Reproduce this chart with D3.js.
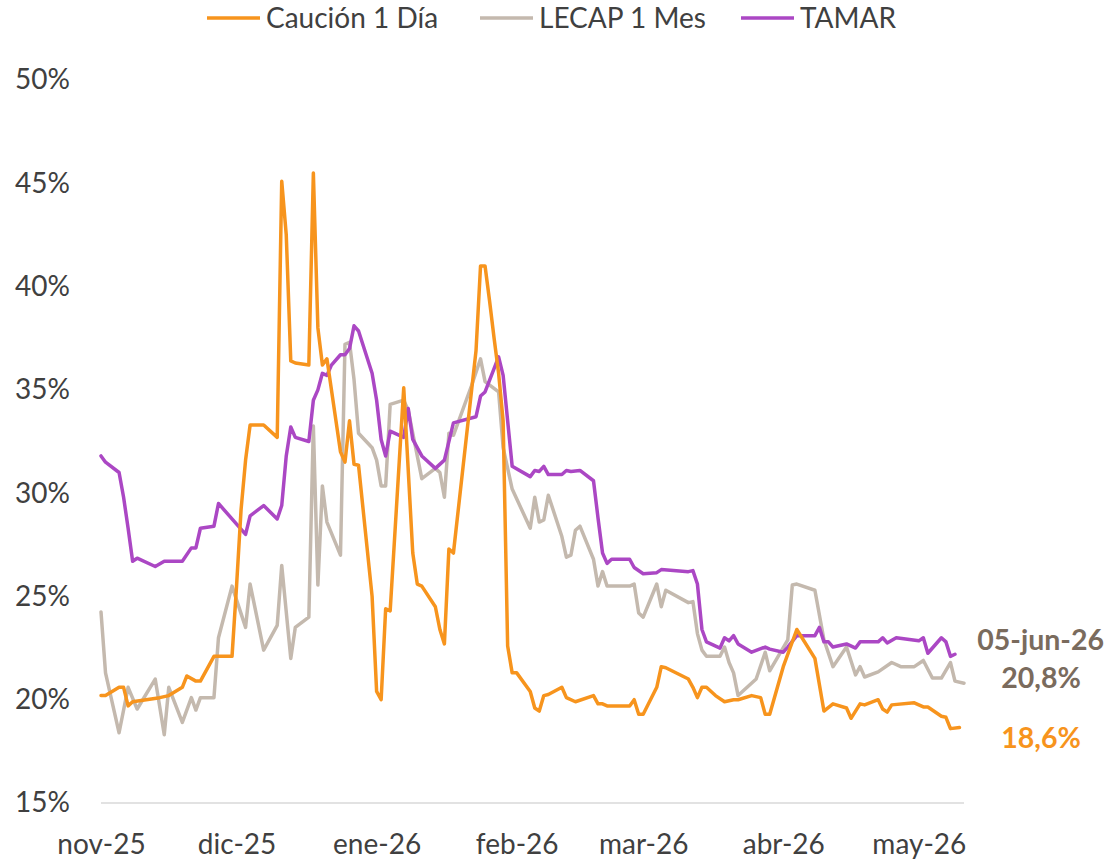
<!DOCTYPE html>
<html><head><meta charset="utf-8">
<script src="https://cdn.jsdelivr.net/npm/d3@7"></script>
<style>
html,body{margin:0;padding:0;background:#fff;}
text{font-family:Lato,"Open Sans",sans-serif;}
</style></head>
<body>
<svg id="chart" width="1107" height="863"></svg>
<script>
// ---- DATA (day offset from 1-nov-2025, value in %) ----
const seriesNames = ["Caución 1 Día", "LECAP 1 Mes", "TAMAR"];
const caucion = [[0,20.2],[1,20.2],[4,20.6],[5,20.6],[6,19.7],[7,19.9],[13,20.1],[15,20.2],[18,20.6],[19,21.15],[21,20.9],[22,20.9],[25,22.1],[29,22.1],[30,25.5],[31,29.2],[32,31.6],[33,33.3],[36,33.3],[39,32.7],[40,45.1],[41,42.5],[42,36.4],[43,36.3],[46,36.2],[47,45.5],[48,38.0],[49,36.2],[50,36.5],[53,32.0],[54,31.5],[55,33.5],[56,31.4],[57,31.35],[60,25.0],[61,20.4],[62,20.0],[63,24.4],[64,24.3],[67,35.1],[69,27.1],[70,25.6],[71,25.5],[74,24.5],[75,23.4],[76,22.7],[77,27.3],[78,27.1],[83,36.9],[84,41.0],[85,41.0],[86,39.3],[87,37.5],[88,35.8],[89,33.5],[90,22.6],[91,21.3],[92,21.3],[95,20.4],[96,19.6],[97,19.45],[98,20.2],[99,20.25],[102,20.6],[103,20.1],[105,19.9],[109,20.2],[110,19.8],[111,19.8],[112,19.7],[117,19.7],[118,20.0],[119,19.3],[120,19.3],[123,20.6],[124,21.6],[125,21.55],[130,21.0],[131,20.6],[132,20.1],[133,20.6],[134,20.6],[136,20.2],[138,19.9],[140,20.0],[141,20.0],[144,20.2],[146,20.1],[147,19.3],[148,19.3],[151,21.6],[154,23.4],[158,22.0],[160,19.45],[162,19.8],[165,19.6],[166,19.1],[168,19.8],[169,19.75],[172,20.0],[173,19.55],[174,19.4],[175,19.75],[180,19.85],[182,19.65],[183,19.65],[186,19.2],[187,19.15],[188,18.6],[190,18.65]];
const lecap = [[0,24.25],[1,21.3],[4,18.4],[6,20.6],[8,19.55],[12,21.0],[14,18.3],[15,20.6],[18,18.9],[20,20.1],[21,19.5],[22,20.1],[25,20.1],[26,23.0],[29,25.5],[32,23.5],[33,25.6],[36,22.4],[39,23.6],[40,26.5],[42,22.0],[43,23.5],[46,24.0],[47,33.25],[48,25.55],[49,30.35],[50,28.6],[53,27.0],[54,37.2],[55,37.3],[56,35.5],[57,32.9],[60,32.2],[61,31.6],[62,30.35],[63,30.35],[64,34.3],[67,34.5],[68,34.0],[71,30.7],[74,31.2],[75,31.0],[76,29.8],[77,32.9],[78,32.8],[82,35.2],[84,36.5],[85,35.4],[88,34.9],[89,32.2],[91,30.2],[95,28.3],[96,29.8],[97,28.6],[98,28.7],[99,29.9],[102,27.9],[103,26.9],[104,27.0],[105,28.2],[106,28.4],[109,26.8],[110,25.5],[111,26.2],[112,25.5],[117,25.5],[118,25.6],[119,24.2],[120,24.0],[123,25.6],[124,24.5],[125,25.3],[130,24.7],[131,24.75],[132,23.2],[133,22.4],[134,22.1],[137,22.1],[138,22.55],[139,21.8],[140,21.3],[141,20.2],[145,21.0],[147,22.3],[148,21.4],[152,22.9],[153,25.55],[154,25.6],[158,25.3],[160,22.9],[162,21.6],[165,22.55],[167,21.2],[168,21.6],[169,21.1],[172,21.35],[175,21.8],[177,21.6],[180,21.6],[182,21.9],[184,21.05],[186,21.05],[188,21.8],[189,20.9],[191,20.8]];
const tamar = [[0,31.8],[1,31.5],[4,31.0],[5,29.8],[6,28.3],[7,26.7],[8,26.85],[12,26.45],[14,26.7],[18,26.7],[20,27.35],[21,27.35],[22,28.3],[25,28.4],[26,29.5],[32,28.0],[33,28.9],[36,29.4],[39,28.75],[40,29.4],[41,31.8],[42,33.2],[43,32.7],[46,32.5],[47,34.5],[48,35.0],[49,35.8],[50,35.7],[51,36.2],[53,36.7],[54,36.7],[55,37.0],[56,38.1],[57,37.85],[60,35.8],[61,34.5],[62,32.6],[63,31.8],[64,33.0],[67,32.7],[68,34.1],[69,32.6],[71,31.8],[74,31.2],[76,31.6],[78,33.4],[83,33.7],[84,34.7],[85,34.9],[88,36.6],[89,35.7],[91,31.3],[95,30.8],[96,31.1],[97,31.05],[98,31.3],[99,30.9],[102,30.9],[103,31.1],[104,31.05],[106,31.1],[109,30.6],[110,28.8],[111,27.1],[112,26.6],[113,26.8],[117,26.8],[118,26.4],[120,26.1],[123,26.15],[124,26.3],[130,26.2],[131,26.25],[132,25.6],[133,23.4],[134,22.8],[137,22.5],[138,23.0],[139,22.85],[140,23.1],[141,22.7],[144,22.3],[147,22.55],[148,22.45],[151,22.3],[152,22.55],[154,23.1],[158,23.1],[159,23.5],[160,22.8],[161,22.8],[162,22.55],[165,22.7],[167,22.5],[168,22.8],[172,22.8],[173,23.0],[174,22.75],[176,23.0],[181,22.85],[182,23.0],[183,22.25],[186,23.0],[187,22.8],[188,22.1],[189,22.2]];
const yTicks = [15, 20, 25, 30, 35, 40, 45, 50];
const xTickLabels = ["nov-25","dic-25","ene-26","feb-26","mar-26","abr-26","may-26"];
const annotDate = "05-jun-26";
const annotLecap = "20,8%";
const annotCaucion = "18,6%";

// ---- CHART ----
const colors = ["#F7941D", "#C4B9AE", "#AB47C4"];
const startDate = new Date(2025, 10, 1);
const toDate = d => d3.timeDay.offset(startDate, d);

const svg = d3.select("#chart");
svg.append("rect").attr("width",1107).attr("height",863).attr("fill","#fff");

const x = d3.scaleTime().domain([startDate, toDate(191)]).range([101, 964]);
const y = d3.scaleLinear().domain([15, 50]).range([803, 80]);

// axis line
svg.append("line").attr("x1", x.range()[0]).attr("x2", x.range()[1])
  .attr("y1", y(15)).attr("y2", y(15)).attr("stroke", "#D9D9D9").attr("stroke-width", 1.5);

// y labels
const yAxis = d3.axisLeft(y).tickValues(yTicks).tickFormat(d => d + "%").tickSize(0).tickPadding(0);
const gy = svg.append("g").attr("transform", "translate(70,0)").call(yAxis);
gy.select(".domain").remove();
gy.selectAll("text").attr("font-size", 28).attr("fill", "#404040")
  .attr("font-family", "Lato, 'Open Sans', sans-serif");

// x labels
const monthTicks = d3.timeMonth.range(startDate, toDate(191)).slice(0, xTickLabels.length);
const xAxis = d3.axisBottom(x).tickValues(monthTicks).tickFormat((d, i) => xTickLabels[i]).tickSize(0).tickPadding(0);
const gx = svg.append("g").attr("transform", "translate(0,834)").call(xAxis);
gx.select(".domain").remove();
gx.selectAll("text").attr("font-size", 28).attr("fill", "#404040")
  .attr("font-family", "Lato, 'Open Sans', sans-serif");

// lines
const line = d3.line().x(d => x(toDate(d[0]))).y(d => y(d[1])).curve(d3.curveLinear);
[lecap, tamar, caucion].forEach((s) => {
  const idx = s === caucion ? 0 : s === lecap ? 1 : 2;
  svg.append("path").datum(s).attr("d", line).attr("fill", "none")
    .attr("stroke", colors[idx]).attr("stroke-width", 3.5)
    .attr("stroke-linejoin", "round").attr("stroke-linecap", "round");
});

// legend
const legendX = [207, 480, 741];
seriesNames.forEach((n, i) => {
  const g = svg.append("g").attr("transform", `translate(${legendX[i]},18)`);
  g.append("line").attr("x1", 0).attr("x2", 53).attr("y1", 0).attr("y2", 0)
    .attr("stroke", colors[i]).attr("stroke-width", 3.5);
  g.append("text").attr("x", 59).attr("y", 0).attr("dy", "0.35em")
    .attr("font-size", 28).attr("fill", "#404040").text(n);
});

// annotations
svg.append("text").attr("x", 1104).attr("y", 640).attr("dy", "0.35em").attr("text-anchor", "end")
  .attr("font-size", 28.5).attr("font-weight", "bold").attr("fill", "#7A6B5D").text(annotDate);
svg.append("text").attr("x", 1041).attr("y", 678).attr("dy", "0.35em").attr("text-anchor", "middle")
  .attr("font-size", 28.5).attr("font-weight", "bold").attr("fill", "#7A6B5D").text(annotLecap);
svg.append("text").attr("x", 1041).attr("y", 738).attr("dy", "0.35em").attr("text-anchor", "middle")
  .attr("font-size", 28.5).attr("font-weight", "bold").attr("fill", "#F7941D").text(annotCaucion);
</script>
</body></html>
